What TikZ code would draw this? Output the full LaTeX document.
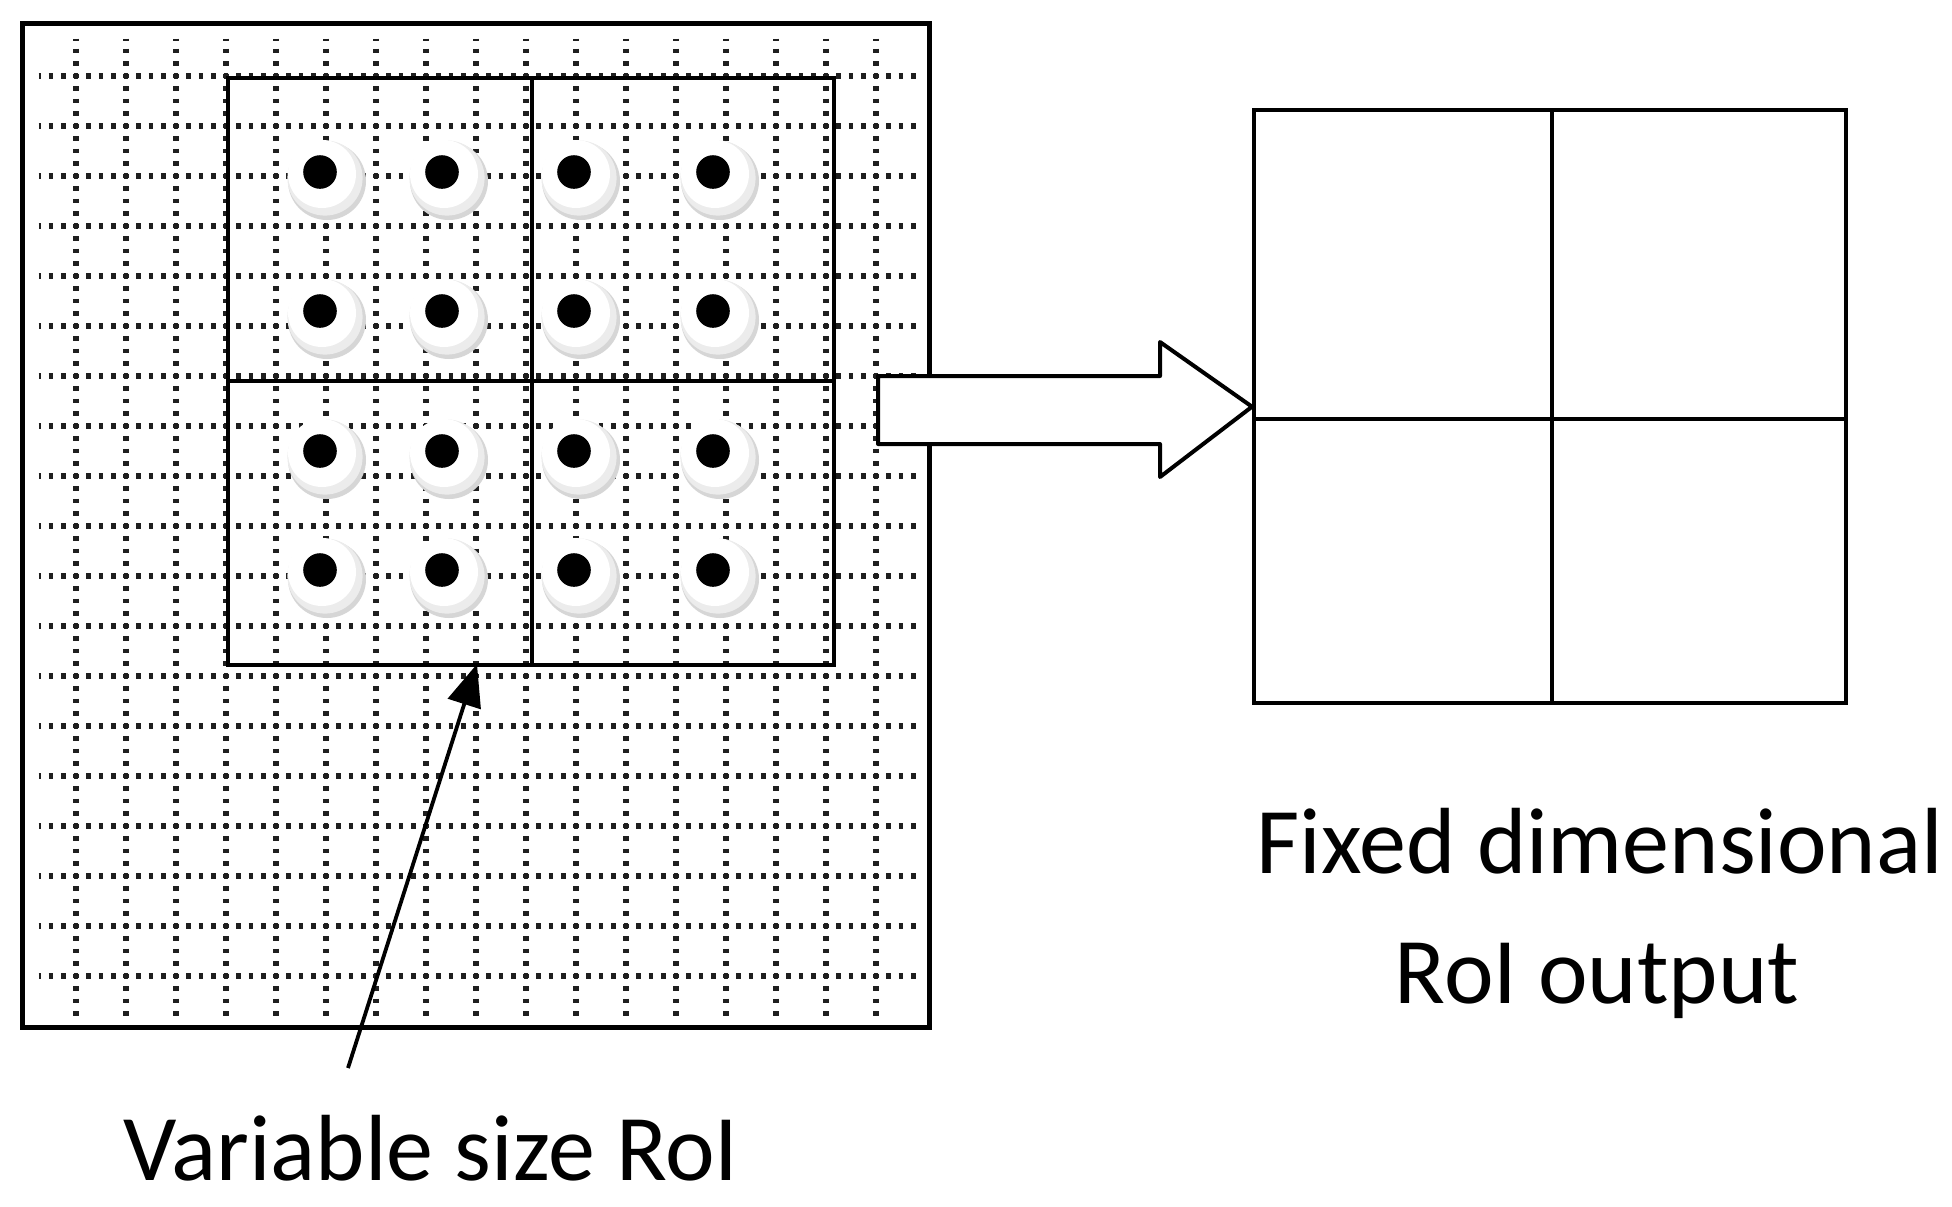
\documentclass[tikz,border=0pt]{standalone}
\usepackage{fontspec}
\setmainfont{Carlito}
\usetikzlibrary{arrows.meta}
\tikzset{
  griddots/.style={line width=2.6pt, line cap=butt, dash pattern=on 2.4pt off 3.85pt, dash phase=1.2pt, black!88},
  heavy/.style={line width=2.4pt, black},
  roiline/.style={line width=2.1pt, black},
  label/.style={font=\fontsize{47}{55}\selectfont, inner sep=0pt},
  pix/.pic={
    \fill[gray!32] (7,9) circle[radius=19.5pt];
    \fill[gray!15] (5,6) circle[radius=18.8pt];
    \fill[white] (2,2) circle[radius=17pt];
    \fill[black] (0,0) circle[radius=8.4pt];
  }
}
\begin{document}
\begin{tikzpicture}[x=0.5pt,y=-0.5pt]
\useasboundingbox (0,0) rectangle (1952,1206);
% feature map grid
\foreach \k in {0,...,16}{
  \draw[griddots] ({76+50*\k},38.5) -- ({76+50*\k},1016);
}
\foreach \k in {0,...,18}{
  \draw[griddots] (38.5,{76+50*\k}) -- (916,{76+50*\k});
}
% pooled points
\foreach \x in {320,442,574,713}{
  \foreach \y in {172,311,451,570}{
    \pic at (\x,\y) {pix};
  }
}
% variable size RoI box
\node[draw, roiline, minimum width=303pt, minimum height=293.5pt, inner sep=0pt, anchor=north west] (roi) at (226,76) {};
\draw[roiline] (532,76) -- (532,663);
\draw[roiline] (226,381) -- (832,381);
% outer frame
\node[draw, heavy, minimum width=453.5pt, minimum height=502pt, inner sep=0pt, anchor=north west] (fmap) at (20,21) {};
% output box
\node[draw, line width=2.2pt, minimum width=296pt, minimum height=296.5pt, inner sep=0pt, anchor=north west] (out) at (1252,108) {};
\draw[line width=2.2pt] (1552,108) -- (1552,701);
\draw[line width=2.2pt] (1252,419) -- (1844,419);
% block arrow
\coordinate (bstart) at (878,408);
\draw[line width=2pt, fill=white, line join=round]
  (bstart |- 0,376) -- (1160,376) -- (1160,342) -- (out.west) -- (1160,477) -- (1160,444) -- (bstart |- 0,444) -- cycle;
% pointer arrow
\coordinate (ptail) at (348,1068);
\coordinate (ptip) at (477,664);
\draw[line width=1.9pt, -{Triangle[length=21pt, width=17pt]}] (ptail) -- (ptip);
% labels
\node[label, anchor=base] (lvar) at (431,1180) {Variable size RoI};
\node[label, anchor=base] (lfix) at (1600,873) {Fixed dimensional};
\node[label, anchor=base] (lout) at (1597,1003) {RoI output};
\end{tikzpicture}
\end{document}
